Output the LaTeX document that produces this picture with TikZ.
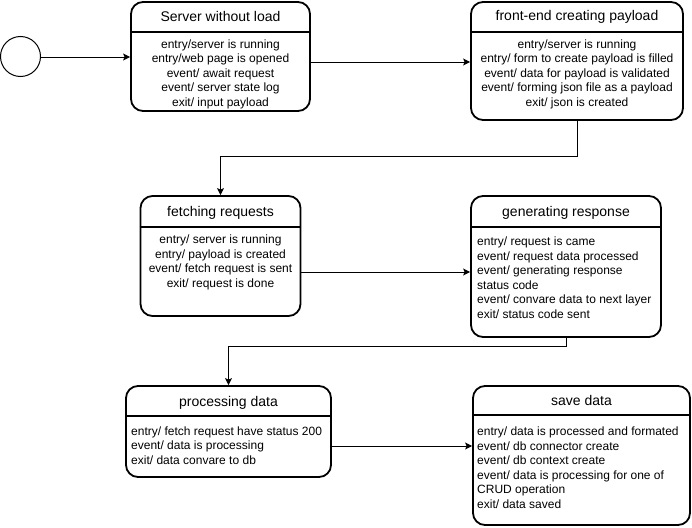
\documentclass[tikz,border=0pt]{standalone}
\usepackage{fontspec}
\setmainfont{Liberation Sans}
\usetikzlibrary{arrows.meta}
\tikzset{
  statebox/.style={draw, line width=1.8pt, rounded corners=12pt, inner sep=0pt},
  divider/.style={line width=1.5pt},
  titletext/.style={font=\fontsize{14}{16.8}\selectfont, inner sep=0pt},
  bodytext/.style={font=\fontsize{12}{14.5}\selectfont, inner sep=0pt},
  conn/.style={line width=1pt, -{Stealth[length=7pt,width=7pt,inset=1.5pt]}},
  initstate/.style={draw, circle, line width=1pt, minimum size=40pt, inner sep=0pt}
}
\begin{document}
\begin{tikzpicture}[x=1pt,y=-1pt]
\useasboundingbox (0,0) rectangle (692,527);
% initial state
\node[initstate] (init) at (20.5,56.5) {};
% states
\node[statebox, minimum width=179pt, minimum height=109pt] (s1) at (220.5,56.5) {};
\draw[divider] (s1.west |- 0,32) -- (s1.east |- 0,32);
\node[titletext] (t1) at (220.5,16.5) {Server without load};
\node[bodytext, align=center] (b1) at (220.5,74) {entry/server is running\\entry/web page is opened\\event/ await request\\event/ server state log\\exit/ input payload};

\node[statebox, minimum width=212pt, minimum height=118pt] (s2) at (577,61) {};
\draw[divider] (s2.west |- 0,32) -- (s2.east |- 0,32);
\node[titletext] (t2) at (577,16.5) {front-end creating payload};
\node[bodytext, align=center] (b2) at (577,74) {entry/server is running\\entry/ form to create payload is filled\\event/ data for payload is validated\\event/ forming json file as a payload\\exit/ json is created};

\node[statebox, minimum width=160pt, minimum height=120pt] (s3) at (220.5,256) {};
\draw[divider] (s3.west |- 0,227) -- (s3.east |- 0,227);
\node[titletext] (t3) at (220.5,212.5) {fetching requests};
\node[bodytext, align=center] (b3) at (220.5,262.5) {entry/ server is running\\entry/ payload is created\\event/ fetch request is sent\\exit/ request is done};

\node[statebox, minimum width=190pt, minimum height=141pt] (s4) at (566,266.5) {};
\draw[divider] (s4.west |- 0,227) -- (s4.east |- 0,227);
\node[titletext] (t4) at (566,212.5) {generating response};
\node[bodytext, align=left, anchor=west] (b4) at (477,277.5) {entry/ request is came\\event/ request data processed\\event/ generating response\\status code\\event/ convare data to next layer\\exit/ status code sent};

\node[statebox, minimum width=205pt, minimum height=91pt] (s5) at (228.5,431.5) {};
\draw[divider] (s5.west |- 0,416) -- (s5.east |- 0,416);
\node[titletext] (t5) at (228.5,402.5) {processing data};
\node[bodytext, align=left, anchor=west] (b5) at (131,445.5) {entry/ fetch request have status 200\\event/ data is processing\\exit/ data convare to db};

\node[statebox, minimum width=217pt, minimum height=139pt] (s6) at (581.5,455.5) {};
\draw[divider] (s6.west |- 0,415) -- (s6.east |- 0,415);
\node[titletext] (t6) at (581.5,400.5) {save data};
\node[bodytext, align=left, anchor=west] (b6) at (477,467.5) {entry/ data is processed and formated\\event/ db connector create\\event/ db context create\\event/ data is processing for one of\\CRUD operation\\exit/ data saved};

% connectors
\draw[conn] (init.east |- 0,57) -- (s1.west |- 0,57);
\draw[conn] (s1.east |- 0,62) -- (s2.west |- 0,62);
\draw[conn] (s2.south) -- (s2.south |- 0,156) -| (s3.north);
\draw[conn] (s3.east |- 0,272) -- (s4.west |- 0,272);
\draw[conn] (s4.south) -- (s4.south |- 0,346) -| (s5.north);
\draw[conn] (s5.east |- 0,446) -- (s6.west |- 0,446);
\end{tikzpicture}
\end{document}
